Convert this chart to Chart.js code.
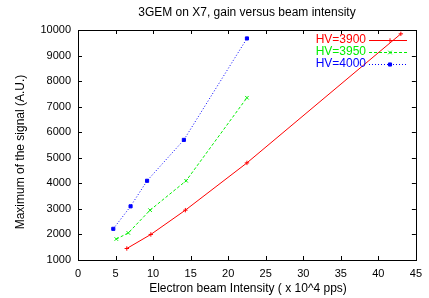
<!DOCTYPE html>
<html><head><meta charset="utf-8">
<script src="https://cdn.jsdelivr.net/npm/chart.js@4/dist/chart.umd.min.js"></script>
<style>html,body{margin:0;padding:0;background:#fff}#wrap{width:429px;height:298px}</style>
</head><body><div id="wrap"><canvas id="c" width="429" height="298"></canvas></div>
<script>
const seriesNames = ["HV=3900", "HV=3950", "HV=4000"];
const x3900 = [6.5, 9.7, 14.3, 22.5, 43.0];
const y3900 = [1450, 2000, 2950, 4800, 9850];
const x3950 = [5.1, 6.7, 9.6, 14.4, 22.5];
const y3950 = [1820, 2060, 2950, 4100, 7350];
const x4000 = [4.7, 7.0, 9.2, 14.1, 22.5];
const y4000 = [2220, 3100, 4100, 5700, 9670];
const xTicks = [0, 5, 10, 15, 20, 25, 30, 35, 40, 45];
const yTicks = [1000, 2000, 3000, 4000, 5000, 6000, 7000, 8000, 9000, 10000];
const titleText = "3GEM on X7, gain versus beam intensity";
const xTitle = "Electron beam Intensity ( x 10^4 pps)";
const yTitle = "Maximum of the signal (A.U.)";

const FONT = "Liberation Sans, Arial, Helvetica, sans-serif";
function pts(xs, ys){ return xs.map((x,i)=>({x:x, y:ys[i]})); }

const ds = [
  {label: seriesNames[0], data: pts(x3900,y3900), borderColor:'#ff0000', backgroundColor:'#ff0000', pointStyle:'cross', pointRadius:2.2, borderWidth:1, pointBorderWidth:1, borderDash:[], legendDash:[40]},
  {label: seriesNames[1], data: pts(x3950,y3950), borderColor:'#00ee00', backgroundColor:'#00ee00', pointStyle:'crossRot', pointRadius:2.5, borderWidth:1, pointBorderWidth:1, borderDash:[3,2], legendDash:[3,2]},
  {label: seriesNames[2], data: pts(x4000,y4000), borderColor:'#0000ff', backgroundColor:'#0000ff', pointStyle:'rect', pointRadius:2.2, borderWidth:1, pointBorderWidth:1, borderDash:[1,2], legendDash:[1,2]}
];
ds.forEach(d=>{ d.showLine = true; d.fill = false; d.tension = 0; d.pointHoverRadius = d.pointRadius; });

const framePlugin = {
  id:'frame',
  afterDraw(chart){
    const ctx = chart.ctx, a = chart.chartArea;
    const xs = chart.scales.x, ys = chart.scales.y;
    ctx.save();
    ctx.strokeStyle = '#000'; ctx.lineWidth = 1;
    ctx.strokeRect(Math.round(a.left)+0.5, Math.round(a.top)+0.5, Math.round(a.right-a.left), Math.round(a.bottom-a.top));
    const L = 4;
    ctx.beginPath();
    xTicks.forEach(v=>{
      const p = Math.round(xs.getPixelForValue(v))+0.5;
      ctx.moveTo(p, a.bottom); ctx.lineTo(p, a.bottom-L);
      ctx.moveTo(p, a.top); ctx.lineTo(p, a.top+L);
    });
    yTicks.forEach(v=>{
      const p = Math.round(ys.getPixelForValue(v))+0.5;
      ctx.moveTo(a.left, p); ctx.lineTo(a.left+L, p);
      ctx.moveTo(a.right, p); ctx.lineTo(a.right-L, p);
    });
    ctx.stroke();
    ctx.fillStyle = '#000';
    ctx.font = '12px ' + FONT;
    ctx.textAlign = 'center'; ctx.textBaseline = 'middle';
    ctx.fillText(titleText, (a.left+a.right)/2, 13);
    ctx.fillText(xTitle, 248, 289);
    ctx.save();
    ctx.translate(21, 152); ctx.rotate(-Math.PI/2);
    ctx.fillText(yTitle, 0, 0);
    ctx.restore();
    // legend
    chart.data.datasets.forEach((d,i)=>{
      const y = 40 + 12*i;
      ctx.font = '12px ' + FONT;
      ctx.textAlign = 'right'; ctx.textBaseline = 'middle';
      ctx.fillStyle = d.borderColor;
      ctx.fillText(d.label, 366, y);
      // sample line made of short segments
      const x0 = 369, x1 = 407;
      const dash = d.legendDash;
      let x = x0, k = 0;
      while (x < x1) {
        const len = dash[k % dash.length];
        if (k % 2 === 0) ctx.fillRect(x, Math.round(y), Math.min(len, x1 - x), 1);
        x += len; k++;
        if (dash.length === 1) k = 0;
      }
      ctx.strokeStyle = d.borderColor; ctx.fillStyle = d.borderColor;
      Chart.helpers.drawPoint(ctx, {pointStyle:d.pointStyle, radius:d.pointRadius, borderWidth:1}, 390, Math.round(y)+0.5);
    });
    ctx.restore();
  }
};

new Chart(document.getElementById('c'), {
  type:'scatter',
  data:{datasets: ds},
  options:{
    responsive:false, animation:false, devicePixelRatio:1,
    layout:{padding:{top:30, right:8, left:0, bottom:0}},
    plugins:{legend:{display:false}, title:{display:false}, tooltip:{enabled:false}},
    scales:{
      x:{type:'linear', min:0, max:45,
         afterBuildTicks(s){ s.ticks = xTicks.map(v=>({value:v})); },
         afterFit(s){ s.height = 38; },
         grid:{display:false, drawTicks:false},
         border:{display:false},
         ticks:{padding:7, color:'#000', font:{family:FONT, size:11}, maxRotation:0, autoSkip:false, callback:v=>String(v)}},
      y:{type:'linear', min:1000, max:10000,
         afterBuildTicks(s){ s.ticks = yTicks.map(v=>({value:v})); },
         afterFit(s){ s.width = 78; },
         grid:{display:false, drawTicks:false},
         border:{display:false},
         ticks:{padding:7, color:'#000', font:{family:FONT, size:11}, autoSkip:false, callback:v=>String(v)}}
    }
  },
  plugins:[framePlugin]
});
</script></body></html>
